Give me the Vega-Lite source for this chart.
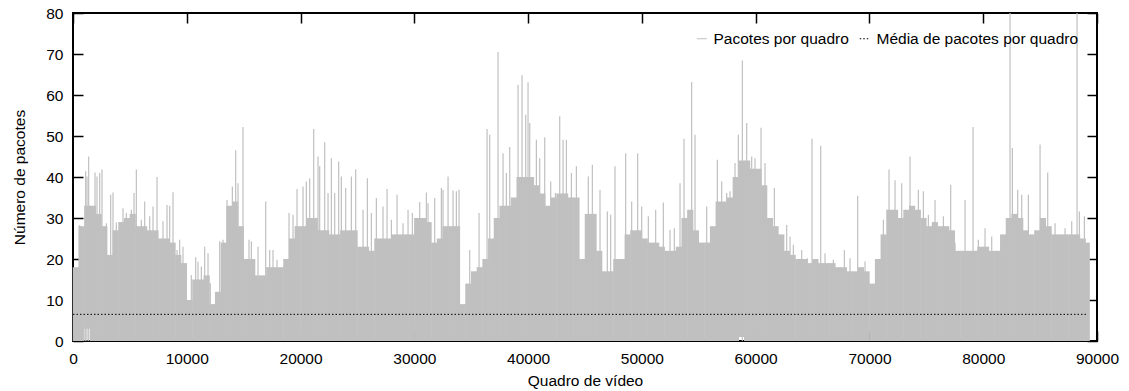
{
  "$schema": "https://vega.github.io/schema/vega-lite/v6.json",
  "width": 1024,
  "height": 328,
  "autosize": "none",
  "padding": {"left": 73, "top": 13, "right": 32, "bottom": 50},
  "background": "white",
  "view": {"stroke": "#000000", "strokeWidth": 2},
  "config": {
    "font": "Liberation Sans",
    "axis": {"grid": false, "ticks": true, "domain": true, "domainOpacity": 0, "tickColor": "#000000", "tickWidth": 1.5, "tickOpacity": 1, "labelColor": "black", "labelFontSize": 15.5, "titleColor": "black", "titleFontSize": 15.5, "titleFontWeight": "normal"}
  },
  "datasets": {
    "body": [
      {"f":250,"hi":18,"lo":0},{"f":750,"hi":28,"lo":0},{"f":1250,"hi":33,"lo":3},{"f":1750,"hi":33,"lo":0},{"f":2250,"hi":31,"lo":0},{"f":2750,"hi":28,"lo":0},{"f":3250,"hi":21,"lo":0},{"f":3750,"hi":27,"lo":0},{"f":4250,"hi":29,"lo":0},{"f":4750,"hi":30,"lo":0},
      {"f":5250,"hi":31,"lo":0},{"f":5750,"hi":28,"lo":0},{"f":6250,"hi":28,"lo":0},{"f":6750,"hi":27,"lo":0},{"f":7250,"hi":27,"lo":0},{"f":7750,"hi":25,"lo":0},{"f":8250,"hi":25,"lo":0},{"f":8750,"hi":24,"lo":0},{"f":9250,"hi":21,"lo":0},{"f":9750,"hi":19,"lo":0},
      {"f":10250,"hi":10,"lo":0},{"f":10750,"hi":15,"lo":0},{"f":11250,"hi":15,"lo":0},{"f":11750,"hi":16,"lo":0},{"f":12250,"hi":9,"lo":0},{"f":12750,"hi":12,"lo":0},{"f":13250,"hi":24,"lo":0},{"f":13750,"hi":33,"lo":0},{"f":14250,"hi":34,"lo":0},{"f":14750,"hi":28,"lo":0},
      {"f":15250,"hi":20,"lo":0},{"f":15750,"hi":20,"lo":0},{"f":16250,"hi":16,"lo":0},{"f":16750,"hi":16,"lo":0},{"f":17250,"hi":18,"lo":0},{"f":17750,"hi":18,"lo":0},{"f":18250,"hi":18,"lo":0},{"f":18750,"hi":20,"lo":0},{"f":19250,"hi":25,"lo":0},{"f":19750,"hi":28,"lo":0},
      {"f":20250,"hi":28,"lo":0},{"f":20750,"hi":30,"lo":0},{"f":21250,"hi":30,"lo":0},{"f":21750,"hi":27,"lo":0},{"f":22250,"hi":27,"lo":0},{"f":22750,"hi":26,"lo":0},{"f":23250,"hi":26,"lo":0},{"f":23750,"hi":27,"lo":0},{"f":24250,"hi":27,"lo":0},{"f":24750,"hi":27,"lo":0},
      {"f":25250,"hi":23,"lo":0},{"f":25750,"hi":23,"lo":0},{"f":26250,"hi":22,"lo":0},{"f":26750,"hi":25,"lo":0},{"f":27250,"hi":25,"lo":0},{"f":27750,"hi":25,"lo":0},{"f":28250,"hi":26,"lo":0},{"f":28750,"hi":26,"lo":0},{"f":29250,"hi":26,"lo":0},{"f":29750,"hi":26,"lo":0},
      {"f":30250,"hi":30,"lo":0},{"f":30750,"hi":30,"lo":0},{"f":31250,"hi":29,"lo":0},{"f":31750,"hi":24,"lo":0},{"f":32250,"hi":25,"lo":0},{"f":32750,"hi":28,"lo":0},{"f":33250,"hi":28,"lo":0},{"f":33750,"hi":28,"lo":0},{"f":34250,"hi":9,"lo":0},{"f":34750,"hi":14,"lo":0},
      {"f":35250,"hi":17,"lo":0},{"f":35750,"hi":18,"lo":0},{"f":36250,"hi":20,"lo":0},{"f":36750,"hi":25,"lo":0},{"f":37250,"hi":30,"lo":0},{"f":37750,"hi":33,"lo":0},{"f":38250,"hi":33,"lo":0},{"f":38750,"hi":35,"lo":0},{"f":39250,"hi":40,"lo":0},{"f":39750,"hi":40,"lo":0},
      {"f":40250,"hi":40,"lo":0},{"f":40750,"hi":38,"lo":0},{"f":41250,"hi":36,"lo":0},{"f":41750,"hi":33,"lo":0},{"f":42250,"hi":35,"lo":0},{"f":42750,"hi":36,"lo":0},{"f":43250,"hi":36,"lo":0},{"f":43750,"hi":35,"lo":0},{"f":44250,"hi":35,"lo":0},{"f":44750,"hi":20,"lo":0},
      {"f":45250,"hi":31,"lo":0},{"f":45750,"hi":31,"lo":0},{"f":46250,"hi":22,"lo":0},{"f":46750,"hi":17,"lo":0},{"f":47250,"hi":17,"lo":0},{"f":47750,"hi":20,"lo":0},{"f":48250,"hi":20,"lo":0},{"f":48750,"hi":26,"lo":0},{"f":49250,"hi":27,"lo":0},{"f":49750,"hi":27,"lo":0},
      {"f":50250,"hi":25,"lo":0},{"f":50750,"hi":24,"lo":0},{"f":51250,"hi":24,"lo":0},{"f":51750,"hi":23,"lo":0},{"f":52250,"hi":22,"lo":0},{"f":52750,"hi":22,"lo":0},{"f":53250,"hi":23,"lo":0},{"f":53750,"hi":30,"lo":0},{"f":54250,"hi":32,"lo":0},{"f":54750,"hi":27,"lo":0},
      {"f":55250,"hi":24,"lo":0},{"f":55750,"hi":24,"lo":0},{"f":56250,"hi":28,"lo":0},{"f":56750,"hi":34,"lo":0},{"f":57250,"hi":34,"lo":0},{"f":57750,"hi":35,"lo":0},{"f":58250,"hi":40,"lo":0},{"f":58750,"hi":44,"lo":1},{"f":59250,"hi":44,"lo":0},{"f":59750,"hi":42,"lo":0},
      {"f":60250,"hi":42,"lo":0},{"f":60750,"hi":38,"lo":0},{"f":61250,"hi":30,"lo":0},{"f":61750,"hi":28,"lo":0},{"f":62250,"hi":26,"lo":0},{"f":62750,"hi":22,"lo":0},{"f":63250,"hi":21,"lo":0},{"f":63750,"hi":20,"lo":0},{"f":64250,"hi":20,"lo":0},{"f":64750,"hi":19,"lo":0},
      {"f":65250,"hi":20,"lo":0},{"f":65750,"hi":19,"lo":0},{"f":66250,"hi":19,"lo":0},{"f":66750,"hi":19,"lo":0},{"f":67250,"hi":18,"lo":0},{"f":67750,"hi":18,"lo":0},{"f":68250,"hi":17,"lo":0},{"f":68750,"hi":17,"lo":0},{"f":69250,"hi":18,"lo":0},{"f":69750,"hi":17,"lo":0},
      {"f":70250,"hi":14,"lo":0},{"f":70750,"hi":20,"lo":0},{"f":71250,"hi":26,"lo":0},{"f":71750,"hi":32,"lo":0},{"f":72250,"hi":32,"lo":0},{"f":72750,"hi":30,"lo":0},{"f":73250,"hi":32,"lo":0},{"f":73750,"hi":33,"lo":0},{"f":74250,"hi":32,"lo":0},{"f":74750,"hi":30,"lo":0},
      {"f":75250,"hi":28,"lo":0},{"f":75750,"hi":29,"lo":0},{"f":76250,"hi":28,"lo":0},{"f":76750,"hi":28,"lo":0},{"f":77250,"hi":27,"lo":0},{"f":77750,"hi":22,"lo":0},{"f":78250,"hi":22,"lo":0},{"f":78750,"hi":22,"lo":0},{"f":79250,"hi":22,"lo":0},{"f":79750,"hi":23,"lo":0},
      {"f":80250,"hi":23,"lo":0},{"f":80750,"hi":22,"lo":0},{"f":81250,"hi":22,"lo":0},{"f":81750,"hi":26,"lo":0},{"f":82250,"hi":30,"lo":0},{"f":82750,"hi":31,"lo":0},{"f":83250,"hi":30,"lo":0},{"f":83750,"hi":27,"lo":0},{"f":84250,"hi":26,"lo":0},{"f":84750,"hi":27,"lo":0},
      {"f":85250,"hi":30,"lo":0},{"f":85750,"hi":28,"lo":0},{"f":86250,"hi":26,"lo":0},{"f":86750,"hi":26,"lo":0},{"f":87250,"hi":26,"lo":0},{"f":87750,"hi":26,"lo":0},{"f":88250,"hi":26,"lo":0},{"f":88750,"hi":25,"lo":0},{"f":89100,"hi":24,"lo":0}
    ],
    "peaks": [
      {"f":586,"v":28.3},{"f":1113,"v":41.4},{"f":1231,"v":40.1},{"f":1377,"v":45.0},{"f":1611,"v":32.8},{"f":1934,"v":41.1},{"f":2110,"v":40.1},{"f":2344,"v":41.0},{"f":2549,"v":41.8},{"f":2930,"v":28.7},
      {"f":3311,"v":35.7},{"f":3516,"v":36.2},{"f":3809,"v":28.9},{"f":4395,"v":32.4},{"f":4688,"v":31.2},{"f":5128,"v":32.0},{"f":5362,"v":36.1},{"f":5567,"v":41.8},{"f":6007,"v":29.6},{"f":6300,"v":34.0},
      {"f":6739,"v":30.4},{"f":7032,"v":32.8},{"f":7384,"v":40.0},{"f":7911,"v":29.2},{"f":8263,"v":33.2},{"f":8497,"v":33.0},{"f":8790,"v":36.3},{"f":9142,"v":22.2},{"f":9376,"v":24.7},{"f":9669,"v":23.0},
      {"f":10400,"v":16.1},{"f":10782,"v":20.4},{"f":10988,"v":19.4},{"f":11281,"v":18.2},{"f":11574,"v":23.0},{"f":11867,"v":21.4},{"f":12072,"v":14.1},{"f":12892,"v":24.3},{"f":13185,"v":24.7},{"f":13537,"v":34.4},
      {"f":14005,"v":37.7},{"f":14298,"v":46.5},{"f":14504,"v":38.5},{"f":14943,"v":52.2},{"f":15470,"v":24.7},{"f":15676,"v":24.3},{"f":16262,"v":23.0},{"f":16935,"v":34.0},{"f":17287,"v":22.2},{"f":17580,"v":22.2},
      {"f":17932,"v":19.8},{"f":18986,"v":31.2},{"f":19338,"v":30.8},{"f":19690,"v":37.1},{"f":20217,"v":37.7},{"f":20510,"v":38.9},{"f":20803,"v":39.7},{"f":21155,"v":51.7},{"f":21536,"v":45.0},{"f":21682,"v":42.6},
      {"f":22122,"v":48.5},{"f":22415,"v":36.1},{"f":22708,"v":44.6},{"f":23000,"v":36.1},{"f":23352,"v":43.8},{"f":23587,"v":40.1},{"f":23967,"v":37.3},{"f":24466,"v":40.1},{"f":24846,"v":41.9},{"f":25491,"v":32.0},
      {"f":25872,"v":39.7},{"f":26224,"v":31.2},{"f":26663,"v":34.9},{"f":27249,"v":32.8},{"f":27601,"v":37.1},{"f":27982,"v":29.6},{"f":28480,"v":35.7},{"f":29007,"v":28.7},{"f":29447,"v":32.0},{"f":29827,"v":31.2},
      {"f":30472,"v":33.9},{"f":31058,"v":36.2},{"f":31205,"v":33.6},{"f":31791,"v":34.9},{"f":32377,"v":37.3},{"f":32523,"v":36.9},{"f":32963,"v":40.1},{"f":33402,"v":36.7},{"f":33695,"v":36.5},{"f":33929,"v":36.9},
      {"f":34867,"v":22.2},{"f":35687,"v":31.2},{"f":36391,"v":51.7},{"f":36625,"v":50.3},{"f":37358,"v":70.5},{"f":37797,"v":45.8},{"f":38090,"v":41.0},{"f":38383,"v":47.3},{"f":39116,"v":62.5},{"f":39467,"v":64.8},
      {"f":39789,"v":55.2},{"f":39994,"v":63.1},{"f":40141,"v":53.2},{"f":40727,"v":49.1},{"f":41020,"v":44.6},{"f":41460,"v":49.7},{"f":41987,"v":38.9},{"f":42397,"v":36.1},{"f":42778,"v":54.8},{"f":43071,"v":49.1},
      {"f":43364,"v":49.1},{"f":43804,"v":41.0},{"f":44243,"v":42.6},
      {"f":45293,"v":40.1},{"f":45645,"v":43.0},{"f":46319,"v":36.9},{"f":46963,"v":31.6},{"f":47256,"v":30.8},{"f":47637,"v":42.6},{"f":48575,"v":45.8},{"f":49102,"v":34.0},{"f":49629,"v":45.8},{"f":49981,"v":32.8},
      {"f":50567,"v":30.4},{"f":51212,"v":32.0},{"f":51886,"v":33.8},{"f":52472,"v":27.1},{"f":52852,"v":27.5},{"f":53351,"v":38.5},{"f":53702,"v":49.3},{"f":54376,"v":63.2},{"f":54669,"v":50.3},{"f":55196,"v":23.9},
      {"f":55695,"v":32.8},{"f":56632,"v":44.2},{"f":57013,"v":38.9},{"f":57453,"v":36.1},{"f":57746,"v":36.5},{"f":58185,"v":43.4},{"f":58478,"v":50.3},{"f":58830,"v":68.4},{"f":59211,"v":53.2},{"f":59650,"v":45.0},
      {"f":59943,"v":44.6},{"f":60470,"v":52.0},{"f":60822,"v":43.4},{"f":61642,"v":37.3},{"f":61994,"v":24.7},{"f":62727,"v":28.3},{"f":63020,"v":25.5},{"f":63313,"v":23.5},{"f":64045,"v":22.2},{"f":64543,"v":20.2},
      {"f":64953,"v":49.3},{"f":65715,"v":47.6},{"f":66096,"v":21.4},{"f":66829,"v":19.8},{"f":67795,"v":22.2},{"f":68294,"v":20.2},{"f":68967,"v":35.4},{"f":69612,"v":19.4},{"f":71224,"v":29.6},{"f":71722,"v":41.8},
      {"f":72249,"v":39.2},{"f":72835,"v":38.5},{"f":73568,"v":45.0},{"f":74300,"v":36.9},{"f":74740,"v":36.5},{"f":75179,"v":30.8},{"f":75765,"v":34.4},{"f":76498,"v":30.4},{"f":77142,"v":38.1},{"f":77523,"v":23.9},
      {"f":78402,"v":34.4},{"f":79105,"v":52.2},{"f":79574,"v":24.7},{"f":80160,"v":27.5},{"f":80746,"v":25.5},{"f":81479,"v":21.0},{"f":82358,"v":80},{"f":82563,"v":47.1},{"f":83031,"v":36.9},{"f":83383,"v":35.7},
      {"f":83969,"v":35.7},{"f":84995,"v":47.9},{"f":85668,"v":41.1},{"f":86313,"v":28.7},{"f":87192,"v":27.5},{"f":87778,"v":29.2},{"f":88247,"v":80},{"f":88452,"v":31.6},{"f":88892,"v":30.4}
    ],
    "mean": [{"f0": 0, "f1": 89100, "m": 6.5}]
  },
  "resolve": {"axis": {"x": "independent", "y": "independent"}},
  "layer": [
    {
      "data": {"name": "body"},
      "mark": {"type": "rule", "strokeWidth": 6.2},
      "encoding": {
        "x": {"field": "f", "type": "quantitative", "scale": {"domain": [0, 90000], "nice": false, "zero": false},
          "axis": {"orient": "bottom", "offset": -10, "values": [0,10000,20000,30000,40000,50000,60000,70000,80000,90000], "format": "d", "tickSize": 10, "labelPadding": 10, "labelFlush": false, "title": "Quadro de vídeo", "titleY": 54, "titleBaseline": "alphabetic"}},
        "y": {"field": "hi", "type": "quantitative", "scale": {"domain": [0, 80], "nice": false},
          "axis": {"orient": "left", "offset": -10, "values": [0,10,20,30,40,50,60,70,80], "format": "d", "tickSize": 10, "labelPadding": 10, "labelFlush": false, "title": "Número de pacotes", "titleX": -64, "titleY": 164, "titleAlign": "center", "titleBaseline": "middle", "titleAngle": 270}},
        "y2": {"field": "lo"},
        "color": {"datum": "Pacotes por quadro", "type": "nominal",
          "scale": {"domain": ["Pacotes por quadro"], "range": ["#c0c0c0"]},
          "legend": {"title": null, "orient": "top-right", "symbolType": "stroke", "symbolStrokeWidth": 1, "labelFontSize": 15.5, "labelColor": "black", "labelLimit": 500}}
      }
    },
    {
      "data": {"name": "peaks"},
      "mark": {"type": "rule", "strokeWidth": 1.2},
      "encoding": {
        "x": {"field": "f", "type": "quantitative", "axis": null},
        "y": {"field": "v", "type": "quantitative", "axis": null},
        "y2": {"datum": 0},
        "color": {"datum": "Pacotes por quadro", "type": "nominal"}
      }
    },
    {
      "data": {"name": "mean"},
      "mark": {"type": "rule", "strokeWidth": 1, "color": "#000000"},
      "encoding": {
        "x": {"field": "f0", "type": "quantitative",
          "axis": {"orient": "top", "offset": -10, "values": [0,10000,20000,30000,40000,50000,60000,70000,80000,90000], "labels": false, "tickSize": 10, "title": null}},
        "x2": {"field": "f1"},
        "y": {"field": "m", "type": "quantitative",
          "axis": {"orient": "right", "offset": -10, "values": [0,10,20,30,40,50,60,70,80], "labels": false, "tickSize": 10, "title": null}},
        "strokeDash": {"datum": "Média de pacotes por quadro", "type": "nominal",
          "scale": {"domain": ["Média de pacotes por quadro"], "range": [[1.5, 2]]},
          "legend": {"title": null, "orient": "top-right", "symbolType": "stroke", "symbolStrokeWidth": 1, "symbolStrokeColor": "#000000", "labelFontSize": 15.5, "labelColor": "black", "labelLimit": 500}}
      }
    }
  ]
}
